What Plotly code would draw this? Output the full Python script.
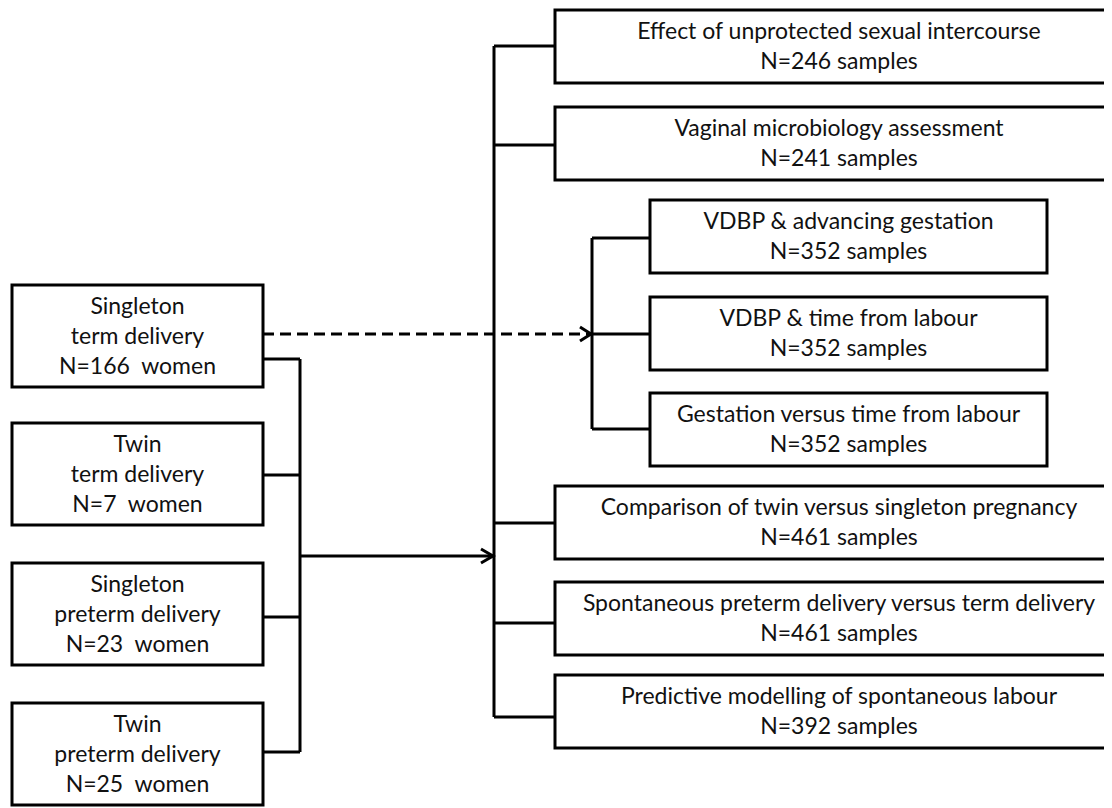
import plotly.graph_objects as go

# ─────────────────────────────────────────
# DATOS DEL DIAGRAMA
# ─────────────────────────────────────────
grupos = ["Singleton", "Twin", "Singleton", "Twin"]
partos = ["term delivery", "term delivery", "preterm delivery", "preterm delivery"]
mujeres = [166, 7, 23, 25]

analisis = [
    "Effect of unprotected sexual intercourse",
    "Vaginal microbiology assessment",
    "VDBP & advancing gestation",
    "VDBP & time from labour",
    "Gestation versus time from labour",
    "Comparison of twin versus singleton pregnancy",
    "Spontaneous preterm delivery versus term delivery",
    "Predictive modelling of spontaneous labour",
]
muestras = [246, 241, 352, 352, 352, 461, 461, 392]

# ─────────────────────────────────────────
# GEOMETRÍA (pixeles)
# ─────────────────────────────────────────
W, H = 1112, 808
OFF = 8  # margen del body de la página
NEGRO = "#000000"
TEXTO = "#111111"
FUENTE = "Lato"
TAM = 23
LW = 3

izq_top = [285, 423, 563, 703]
izq_alto = 102
izq_x = (12, 263)
izq_con = [359, 475, 617, 752]
tronco_izq = 300
flecha_y = 556

der_top = [10, 107, 200, 297, 393, 486, 582, 675]
der_alto = 73
der_con = [46, 145, 238, 334, 429, 523, 623, 717]
sub = {2, 3, 4}
der_x = (555, 1123)
sub_x = (650, 1047)
tronco = 494
tronco_sub = 592
guion_y = 334

fig = go.Figure()
shapes = []


def linea(xs, ys, dash=None):
    fig.add_trace(go.Scatter(
        x=xs, y=ys, mode="lines",
        line=dict(color=NEGRO, width=LW, dash=dash),
        hoverinfo="skip", showlegend=False,
    ))


def caja(x0, x1, y0, y1, abierta=False):
    # las cajas anchas salen del cuadro: sin borde derecho
    if abierta:
        path = f"M {x1},{y0} L {x0},{y0} L {x0},{y1} L {x1},{y1}"
    else:
        path = f"M {x0},{y0} L {x1},{y0} L {x1},{y1} L {x0},{y1} Z"
    shapes.append(dict(
        type="path", xref="x", yref="y", path=path,
        line=dict(color=NEGRO, width=LW), layer="below",
    ))


# cajas izquierdas
tx, ty, textos = [], [], []
for i, top in enumerate(izq_top):
    caja(izq_x[0], izq_x[1], top, top + izq_alto)
    cy = top + izq_alto / 2 + 2
    for k, t in enumerate([grupos[i], partos[i], f"N={mujeres[i]}  women"]):
        tx.append((izq_x[0] + izq_x[1]) / 2)
        ty.append(cy + (k - 1) * 30)
        textos.append(t)
    linea([izq_x[1], tronco_izq], [izq_con[i], izq_con[i]])

linea([tronco_izq, tronco_izq], [izq_con[0], izq_con[-1]])
linea([tronco_izq, tronco], [flecha_y, flecha_y])
linea([tronco - 13, tronco - 1, tronco - 13], [flecha_y - 7, flecha_y, flecha_y + 7])

# línea discontinua hacia el subgrupo VDBP
linea([izq_x[1], tronco_sub], [guion_y, guion_y], dash="11px,6px")
linea([tronco_sub - 12, tronco_sub - 1, tronco_sub - 12], [guion_y - 7, guion_y, guion_y + 7])

# cajas derechas
principales = [i for i in range(len(analisis)) if i not in sub]
linea([tronco, tronco], [der_con[principales[0]], der_con[principales[-1]]])
linea([tronco_sub, tronco_sub], [der_con[min(sub)], der_con[max(sub)]])
for i, top in enumerate(der_top):
    xs = sub_x if i in sub else der_x
    caja(xs[0], xs[1], top, top + der_alto, abierta=i not in sub)
    origen = tronco_sub if i in sub else tronco
    linea([origen, xs[0]], [der_con[i], der_con[i]])
    cy = top + der_alto / 2 + 2
    cx = (xs[0] + xs[1]) / 2
    for k, t in enumerate([analisis[i], f"N={muestras[i]} samples"]):
        tx.append(cx)
        ty.append(cy + (k - 0.5) * 30)
        textos.append(t)

fig.add_trace(go.Scatter(
    x=tx, y=ty, text=textos, mode="text",
    textposition="middle center",
    textfont=dict(family=FUENTE, size=TAM, color=TEXTO),
    hoverinfo="skip", showlegend=False,
))

fig.update_layout(
    width=W - OFF, height=H,
    margin=dict(l=0, r=0, t=0, b=0),
    plot_bgcolor="white", paper_bgcolor="white",
    xaxis=dict(range=[OFF, W], visible=False, fixedrange=True),
    yaxis=dict(range=[H + OFF, OFF], visible=False, fixedrange=True),
    shapes=shapes,
)

fig.write_html("out.html")
